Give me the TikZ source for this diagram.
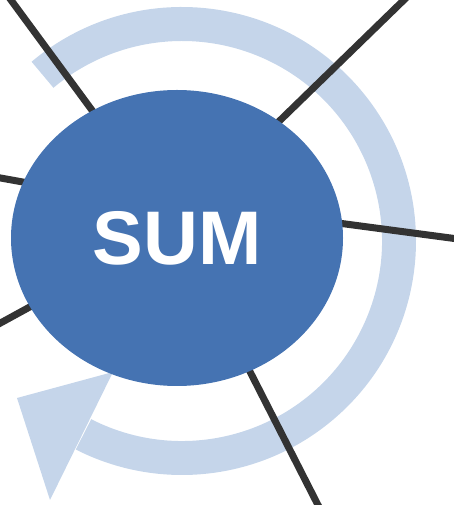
\documentclass[tikz,border=0pt]{standalone}
\usepackage{fontspec}
\setmainfont{Liberation Sans}
\usetikzlibrary{shapes.geometric,calc}
\definecolor{hubblue}{HTML}{4573B2}
\definecolor{arcblue}{HTML}{C5D5EA}
\definecolor{spoke}{HTML}{333333}
\tikzset{
  spokeline/.style={draw=spoke, line width=7pt},
  hub/.style={ellipse, fill=hubblue, draw=none, minimum width=332pt, minimum height=296pt, inner sep=0pt,
    text=white, font=\fontsize{76}{76}\selectfont\bfseries},
  cyclearrow/.style={fill=arcblue, draw=none}
}
\begin{document}
\begin{tikzpicture}[x=1pt,y=1pt]
\useasboundingbox (0,0) rectangle (453,505);
% circular arrow
\coordinate (ac) at (182,264);
\fill[cyclearrow] ($(ac)+(130:234)$) arc[start angle=130, end angle=-117, radius=234]
  -- ($(ac)+(-117:200)$) arc[start angle=-117, end angle=130, radius=200] -- cycle;
\fill[cyclearrow] (17,107) -- (113,133) -- (50,5) -- cycle;
% spokes
\coordinate (s1a) at (108,373); \coordinate (s1b) at (8,509);
\coordinate (s2a) at (265,370); \coordinate (s2b) at (408,509);
\coordinate (s3a) at (323,284); \coordinate (s3b) at (458,266);
\coordinate (s4a) at (45,319);  \coordinate (s4b) at (-5,328);
\coordinate (s5a) at (48,208);  \coordinate (s5b) at (-5,179);
\coordinate (s6a) at (241,151); \coordinate (s6b) at (320,-4);
\draw[spokeline] (s1a) -- (s1b);
\draw[spokeline] (s2a) -- (s2b);
\draw[spokeline] (s3a) -- (s3b);
\draw[spokeline] (s4a) -- (s4b);
\draw[spokeline] (s5a) -- (s5b);
\draw[spokeline] (s6a) -- (s6b);
% hub
\node[hub] (sum) at (177,267) {SUM};
\end{tikzpicture}
\end{document}
